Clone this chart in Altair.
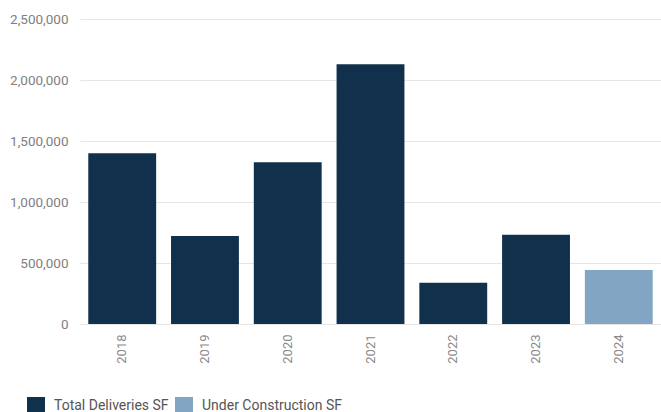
import altair as alt
import pandas as pd

years = ["2018", "2019", "2020", "2021", "2022", "2023", "2024"]
values = [1400000, 722000, 1325000, 2130000, 338000, 732000, 443000]
series = ["Total Deliveries SF"] * 6 + ["Under Construction SF"]
series_names = ["Total Deliveries SF", "Under Construction SF"]
series_colors = ["#11304b", "#82a5c3"]

df = pd.DataFrame({"year": years, "value": values, "series": series})

chart = alt.Chart(df).mark_bar().encode(
    x=alt.X("year:N", sort=years, title=None,
            scale=alt.Scale(paddingInner=0.18, paddingOuter=0.1),
            axis=alt.Axis(labelAngle=-90, labelFont="Roboto", labelFontSize=13,
                          labelColor="#8a8a8a", ticks=False, domain=False,
                          labelPadding=10, labelAlign="right", labelBaseline="middle")),
    y=alt.Y("value:Q", title=None,
            scale=alt.Scale(domain=[0, 2500000], nice=False),
            axis=alt.Axis(values=[0, 500000, 1000000, 1500000, 2000000, 2500000],
                          format=",d", labelFont="Roboto", labelFontSize=13.5,
                          labelColor="#808080", ticks=False, domain=False,
                          labelPadding=12, gridColor="#e6e6e6")),
    color=alt.Color("series:N", title=None,
                    scale=alt.Scale(domain=series_names, range=series_colors),
                    legend=alt.Legend(orient="none", legendX=-53, legendY=378,
                                      direction="horizontal", symbolType="square",
                                      symbolSize=324, symbolStrokeWidth=0,
                                      labelFont="Roboto", labelFontSize=14,
                                      labelColor="#555555", labelOffset=9,
                                      columnPadding=6)),
).properties(
    width=581, height=305,
    autosize=alt.AutoSizeParams(type="none"),
    padding={"left": 80, "top": 19, "right": 0, "bottom": 88},
).configure_view(stroke=None).configure_axis(gridWidth=1)

chart.save("out.html", embed_options={"renderer": "svg", "actions": False})
